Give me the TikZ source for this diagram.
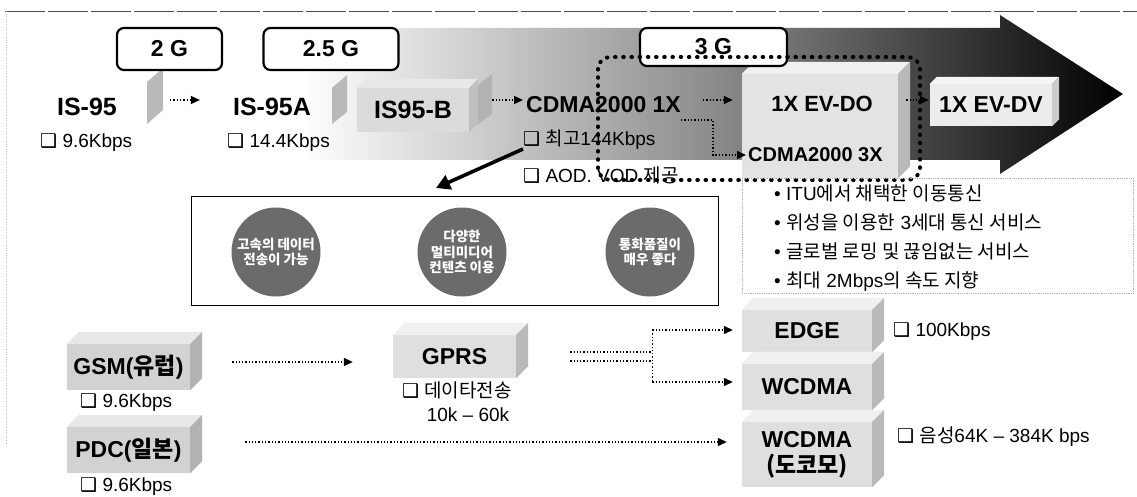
\documentclass[tikz,border=0pt]{standalone}
\usepackage{fontspec}
\setmainfont{Liberation Sans}
\newfontfamily\kofont{Noto Sans CJK KR}
\newfontfamily\dvfont{DejaVu Sans}
\usetikzlibrary{arrows.meta}
\newcommand\KR[1]{{\kofont #1}}
\newcommand\bxs{{\dvfont\symbol{"2751}}}
\newcommand\fsz[1]{\fontsize{#1}{#1}\selectfont}
\newcommand\threed[4]{%
  \fill[#3] (#1.north west) -- ([shift={(#2,-#2)}]#1.north west) -- ([shift={(#2,-#2)}]#1.north east) -- (#1.north east) -- cycle;
  \fill[#4] (#1.north east) -- ([shift={(#2,-#2)}]#1.north east) -- ([shift={(#2,-#2)}]#1.south east) -- (#1.south east) -- cycle;}
\begin{document}
\begin{tikzpicture}[x=1pt,y=-1pt,
  gen/.style={font=\fsz{25}\bfseries, inner sep=0pt},
  sub/.style={font=\fsz{19}, inner sep=0pt, anchor=west},
  gbox/.style={draw=black, line width=2.2pt, rounded corners=7pt, fill=white, font=\fsz{23}\bfseries, inner sep=0pt},
  front/.style={fill=#1, inner sep=0pt, font=\fsz{23}\bfseries},
  darr/.style={dotted, line width=1.3pt, -{Triangle[length=9pt,width=8pt]}},
  dline/.style={dotted, line width=1.3pt},
  bigarr/.style={line width=3.6pt, -{Triangle[length=14pt,width=15pt]}},
  bigdots/.style={line width=4pt, line cap=round, dash pattern=on 0.6pt off 7.6pt},
  feat/.style={circle, fill=black!58, minimum size=89pt, inner sep=0pt, text=white, font=\fontsize{13.5}{15.5}\selectfont\bfseries\kofont, align=center},
]
\useasboundingbox (0,0) rectangle (1137,497);
\fill[white] (0,0) rectangle (1137,497);
% frame
\draw[black!70, line width=0.9pt, dash pattern=on 40pt off 3pt] (5,11) -- (1137,11);
\draw[gray!50, dotted, line width=0.6pt] (6,11) -- (6,445);
% big gradient arrow
\shade[left color=white, right color=black, middle color=black!45] (300,28) -- (1000,28) -- (1000,15) -- (1123,94) -- (1000,174) -- (1000,160) -- (300,160) -- cycle;
% callout slabs
\fill[gray!55] (147,82) -- (163,68) -- (163,110) -- (147,124) -- cycle;
\fill[gray!55] (332,88) -- (347,75) -- (347,112) -- (332,124) -- cycle;
\fill[gray!60] (477,86) -- (492,74) -- (492,114) -- (477,125) -- cycle;
% blocks on the arrow
\node[front=gray!28, minimum width=112pt, minimum height=44pt, font=\fsz{25}\bfseries] (is95b) at (413,110) {IS95-B};
\threed{is95b}{9}{gray!18}{gray!50}
\node[front=gray!22, minimum width=156pt, minimum height=104pt] (evdobox) at (820,126) {};
\threed{evdobox}{12}{gray!12}{gray!55}
\node[front=gray!15, minimum width=122pt, minimum height=42pt] (evdv) at (991,105) {1X EV-DV};
\threed{evdv}{7}{gray!8}{gray!40}
% generation boxes
\node[gbox, minimum width=105pt, minimum height=42pt] (g2) at (169.5,49) {2 G};
\node[gbox, minimum width=135pt, minimum height=42pt] (g25) at (331,49) {2.5 G};
\node[gbox, minimum width=147pt, minimum height=38pt] (g3) at (713.5,47) {3 G};
% texts
\node[gen] (is95) at (87,107) {IS-95};
\node[sub] (is95s) at (40,143) {\bxs\ 9.6Kbps};
\node[gen] (is95a) at (272,107) {IS-95A};
\node[sub] (is95as) at (227,143) {\bxs\ 14.4Kbps};
\node[gen, font=\fsz{23}\bfseries, anchor=west] (cdma1x) at (526,105) {CDMA2000 1X};
\node[sub] (c1x2) at (523,140) {\bxs\ \KR{최고}144Kbps};
\node[sub] (c1x3) at (523,175) {\bxs\ AOD. VOD \KR{제공}};
\node[gen, font=\fsz{22}\bfseries] (evdo) at (822,104) {1X EV-DO};
\node[gen, font=\fsz{20}\bfseries, anchor=west] (cdma3x) at (748,155) {CDMA2000 3X};
% top connectors
\draw[darr, shorten <=53pt, shorten >=33pt] ([yshift=7pt]is95.east) -- ([yshift=7pt]is95a.west);
\draw[darr, shorten <=23pt, shorten >=3pt] ([yshift=10pt]is95b.east) -- ([yshift=5pt]cdma1x.west);
\draw[darr, shorten <=22pt, shorten >=9pt] ([yshift=5pt]cdma1x.east) -- ([yshift=26pt]evdobox.west);
\draw[darr, shorten >=2pt] ([yshift=-15pt]cdma1x.east) -- ++(32,0) |- (cdma3x.west);
\draw[darr, shorten <=8pt, shorten >=1pt] ([yshift=26pt]evdobox.east) -- ([yshift=5pt]evdv.west);
\coordinate (tip) at (436,188);
\draw[bigarr] ([yshift=-9pt]c1x2.west) -- (tip);
% 3G boundary
\draw[bigdots, rounded corners=12pt] (598,57) rectangle (920,180);
% feature box
\node[draw, line width=1pt, minimum width=527pt, minimum height=108pt, inner sep=0pt] (featbox) at (454.5,251) {};
\node[feat] (f1) at (276,252) {고속의 데이터\\전송이 가능};
\node[feat] (f2) at (462,252) {다양한\\멀티미디어\\컨텐츠 이용};
\node[feat] (f3) at (650,252) {통화품질이\\매우 좋다};
% bullet box
\node[draw=gray!60, densely dotted, line width=0.8pt, minimum width=391pt, minimum height=115pt, inner sep=0pt, anchor=north west] (bulletbox) at (742,178) {};
\node[anchor=north west, align=left, inner sep=0pt, font=\fontsize{19}{29}\selectfont] (bullets) at ([shift={(32,7)}]bulletbox.north west) {• ITU\KR{에서 채택한 이동통신}\\• \KR{위성을 이용한} 3\KR{세대 통신 서비스}\\• \KR{글로벌 로밍 및 끊임없는 서비스}\\• \KR{최대} 2Mbps\KR{의 속도 지향}};
% bottom blocks
\node[front=gray!35, minimum width=123pt, minimum height=46pt] (gsm) at (128.5,367) {GSM(\KR{유럽})};
\threed{gsm}{12}{gray!18}{gray!60}
\node[sub] (gsms) at (80,403) {\bxs\ 9.6Kbps};
\node[front=gray!35, minimum width=123pt, minimum height=46pt] (pdc) at (128.5,450) {PDC(\KR{일본})};
\threed{pdc}{12}{gray!18}{gray!60}
\node[sub] (pdcs) at (80,487) {\bxs\ 9.6Kbps};
\node[front=gray!25, minimum width=123pt, minimum height=43pt] (gprs) at (454.5,356.5) {GPRS};
\threed{gprs}{12}{gray!12}{gray!55}
\node[sub] (gprss) at (402,390) {\bxs\ \KR{데이타전송}};
\node[font=\fsz{19}, inner sep=0pt] (gprsr) at (468,415) {10k \textendash\ 60k};
\node[front=gray!25, minimum width=130pt, minimum height=42pt] (edge) at (807,331) {EDGE};
\threed{edge}{12}{gray!12}{gray!55}
\node[front=gray!25, minimum width=130pt, minimum height=46pt] (wcdma) at (807,387) {WCDMA};
\threed{wcdma}{12}{gray!12}{gray!55}
\node[front=gray!25, minimum width=130pt, minimum height=65pt, align=center, font=\fontsize{23}{26}\selectfont\bfseries] (wcdmad) at (807,454.5) {WCDMA\\\KR{(도코모)}};
\threed{wcdmad}{12}{gray!12}{gray!55}
\node[sub] (edges) at (893,332) {\bxs\ 100Kbps};
\node[sub] (wcdmads) at (897,437) {\bxs\ \KR{음성}64K \textendash\ 384K bps};
% bottom connectors
\draw[darr, shorten <=42pt, shorten >=40pt] ([yshift=5pt]gsm.east) -- ([yshift=-5.5pt]gprs.west);
\coordinate (pdco) at ([yshift=8pt]pdc.east);
\draw[darr, shorten <=55pt, shorten >=15pt] (pdco) -- (pdco -| wcdmad.west);
\coordinate (gpa) at ([yshift=4.5pt]gprs.east);
\coordinate (gpb) at ([yshift=-4.5pt]gprs.east);
\coordinate (brt) at ([xshift=136pt, yshift=26.5pt]gprs.east);
\coordinate (brb) at ([xshift=136pt, yshift=-25.5pt]gprs.east);
\draw[dline, shorten <=54pt] (gpa) -- (gpa -| brt);
\draw[dline, shorten <=54pt] (gpb) -- (gpb -| brt);
\draw[dline] (brt) -- (brb);
\draw[darr, shorten >=9pt] (brt) -- (brt -| edge.west);
\draw[darr, shorten >=9pt] (brb) -- (brb -| wcdma.west);
\end{tikzpicture}
\end{document}
